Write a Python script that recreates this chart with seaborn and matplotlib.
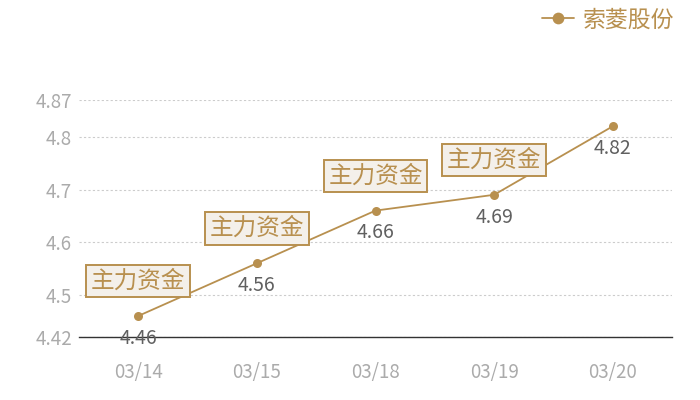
import matplotlib
matplotlib.use("Agg")
import matplotlib.pyplot as plt
import seaborn as sns
import pandas as pd

dates = ["03/14", "03/15", "03/18", "03/19", "03/20"]
prices = [4.46, 4.56, 4.66, 4.69, 4.82]
series_name = "索菱股份"
flag_text = "主力资金"
flag_dates = ["03/14", "03/15", "03/18", "03/19"]
yticks = [4.42, 4.5, 4.6, 4.7, 4.8, 4.87]
ytick_labels = ["4.42", "4.5", "4.6", "4.7", "4.8", "4.87"]

sns.set_theme(style="white")
plt.rcParams["font.family"] = ["Noto Sans CJK SC", "DejaVu Sans"]

GOLD = "#B8904F"
df = pd.DataFrame({"date": dates, "price": prices, "series": series_name})

fig = plt.figure(figsize=(7, 4), dpi=100)
ax = fig.add_axes([79 / 700, 1 - 337 / 400, 593 / 700, 237 / 400])

sns.lineplot(data=df, x="date", y="price", hue="series", palette=[GOLD],
             marker="o", markersize=6.5, markeredgewidth=0, linewidth=1.3,
             ax=ax, sort=False)

ax.set_xlim(-0.5, len(dates) - 0.5)
ax.set_ylim(yticks[0], yticks[-1])
ax.set_yticks(yticks)
ax.set_yticklabels(ytick_labels)
ax.set_xlabel("")
ax.set_ylabel("")
for s in ["left", "right", "top"]:
    ax.spines[s].set_visible(False)
ax.spines["bottom"].set_color("#333333")
ax.spines["bottom"].set_linewidth(1.0)
ax.tick_params(axis="both", length=0, labelsize=13.5, labelcolor="#ABABAB")
ax.tick_params(axis="x", pad=18)
ax.tick_params(axis="y", pad=5)
ax.yaxis.grid(True, linestyle=(0, (2, 2)), color="#CCCCCC", linewidth=0.8)
ax.xaxis.grid(False)
ax.set_axisbelow(True)
ax.set_facecolor("white")

for i, (d, v) in enumerate(zip(dates, prices)):
    ax.annotate(f"{v:.2f}", xy=(i, v), xytext=(0, -16), textcoords="offset points",
                ha="center", va="center", fontsize=14, color="#606060")
    if d in flag_dates:
        ax.annotate(flag_text, xy=(i, v), xytext=(0, 25), textcoords="offset points",
                    ha="center", va="center", fontsize=17, color=GOLD,
                    bbox=dict(boxstyle="square,pad=0.2", facecolor="#F4F0EA",
                              edgecolor=GOLD, linewidth=1.4))

leg = ax.legend(loc="center right", bbox_to_anchor=(674 / 700, 1 - 20 / 400),
                bbox_transform=fig.transFigure, frameon=False, fontsize=16.5,
                labelcolor=GOLD, handlelength=1.4, handletextpad=0.35,
                borderaxespad=0, borderpad=0, markerscale=1.3)

fig.savefig("out.png", dpi=100, facecolor="white")
